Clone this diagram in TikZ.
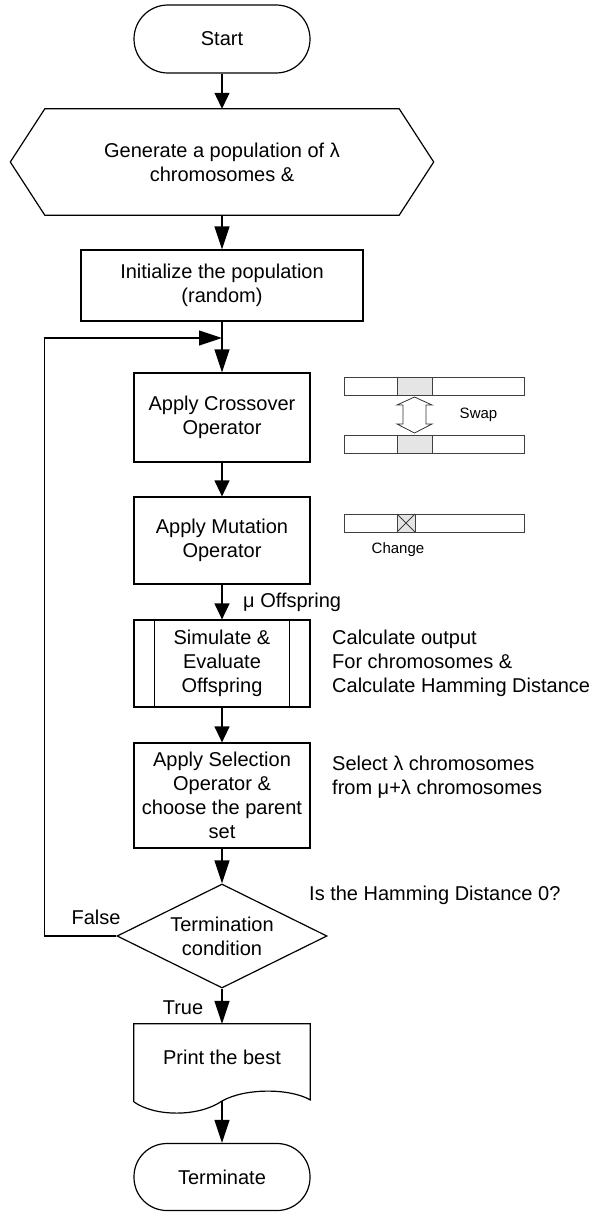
\documentclass[tikz,border=0pt]{standalone}
\usepackage{fontspec}
\setmainfont{Liberation Sans}
\usetikzlibrary{arrows.meta,shapes.geometric,calc}
\begin{document}
\begin{tikzpicture}[x=1pt,y=-1pt,
  every node/.style={font=\fontsize{20}{24}\selectfont},
  line/.style={line width=1.2pt},
  term/.style={draw,line width=1.2pt,rounded corners=34pt,minimum width=176pt,minimum height=68pt,inner sep=0pt},
  procbox/.style={draw,line width=1.2pt,minimum width=176pt,inner sep=0pt,align=center},
  ghost/.style={inner sep=0pt,align=center},
  dec/.style={draw,diamond,aspect=2,line width=1.2pt,minimum width=210pt,minimum height=104pt,inner sep=0pt,align=center},
  longarrow/.style={line width=1.2pt,-{Triangle[length=23pt,width=15pt]}},
  shortarrow/.style={line width=1.2pt,-{Triangle[length=16pt,width=15pt]}},
  note/.style={inner sep=0pt,align=left,anchor=west},
  small/.style={inner sep=0pt,font=\fontsize{15}{18}\selectfont},
  bar/.style={draw=black!75,line width=0.9pt,fill=white},
  graycell/.style={draw=black!75,line width=0.9pt,fill=black!10}
]
\useasboundingbox (0,0) rectangle (591,1212);

% main flow
\node[term] (start) at (222,39) {Start};
\node[ghost,minimum width=423pt,minimum height=106pt] (gen) at (222,162) {Generate a population of λ\\chromosomes \&};
\draw[line] (gen.west) -- ($(gen.north west)+(34.5,0)$) -- ($(gen.north east)+(-34.5,0)$) -- (gen.east)
  -- ($(gen.south east)+(-34.5,0)$) -- ($(gen.south west)+(34.5,0)$) -- cycle;
\node[procbox,minimum width=282pt,minimum height=71pt] (init) at (222,285.5) {Initialize the population\\(random)};
\node[procbox,minimum height=89pt] (cross) at (222,417.5) {Apply Crossover\\Operator};
\node[procbox,minimum height=87pt] (mut) at (222,540.5) {Apply Mutation\\Operator};
\node[procbox,minimum height=87pt] (sim) at (222,663.5) {Simulate \&\\Evaluate\\Offspring};
\draw[line] ($(sim.north west)+(21,0)$) -- ($(sim.south west)+(21,0)$);
\draw[line] ($(sim.north east)+(-21,0)$) -- ($(sim.south east)+(-21,0)$);
\node[procbox,minimum height=105pt] (sel) at (222,795.5) {Apply Selection\\Operator \&\\choose the parent\\set};
\node[dec] (cond) at (222,936) {Termination\\condition};
\node[ghost,minimum width=176pt,minimum height=66pt] (pb) at (222,1057) {Print the best};
\draw[line] ($(pb.north west)+(0,78)$) -- (pb.north west) -- (pb.north east) -- ($(pb.north east)+(0,76)$)
  .. controls (289,1088) and (245,1088) .. (222,1101)
  .. controls (199,1117) and (155,1117) .. ($(pb.north west)+(0,78)$);
\coordinate (pbout) at (222,1101);
\node[term,minimum height=67pt,rounded corners=33pt] (termn) at (222,1177) {Terminate};

% connectors
\coordinate (join) at (222,338);
\draw[shortarrow] (start) -- (gen);
\draw[longarrow] (gen) -- (init);
\draw[longarrow] (init) -- (cross);
\draw[longarrow] (cond.west) -- ++(-72,0) |- (join);
\draw[shortarrow] (cross) -- (mut);
\draw[shortarrow] (mut) -- (sim);
\draw[shortarrow] (sim) -- (sel);
\draw[longarrow] (sel) -- (cond);
\draw[longarrow] (cond) -- (pb);
\draw[longarrow] (pbout) -- (termn);

% labels
\node[inner sep=0pt] (lfalse) at (96,917) {False};
\node[inner sep=0pt] (ltrue) at (183,1008) {True};
\node[note] (lmu) at (243,602) {μ Offspring};
\node[note] (ncalc) at (332,663) {Calculate output\\For chromosomes \&\\Calculate Hamming Distance};
\node[note] (nsel) at (332,777.5) {Select λ chromosomes\\from μ+λ chromosomes};
\node[note] (nham) at (309,895) {Is the Hamming Distance 0?};

% crossover illustration
\draw[bar] (344,377) rectangle (524,395);
\draw[graycell] (397,377) rectangle (432,395);
\draw[bar] (344,435) rectangle (524,453);
\draw[graycell] (397,435) rectangle (432,453);
\draw[draw=black!80,line width=0.8pt,fill=white] (414.5,397) -- (432,405) -- (426,405) -- (426,424) -- (432,424)
  -- (414.5,433) -- (397,424) -- (403,424) -- (403,405) -- (397,405) -- cycle;
\node[small] (lswap) at (478.5,415) {Swap};

% mutation illustration
\draw[bar] (344,514) rectangle (524,532);
\draw[graycell] (397,514) rectangle (415,532);
\draw[draw=black!75,line width=0.8pt] (397,514) -- (415,532) (415,514) -- (397,532);
\node[small] (lchange) at (398,550) {Change};
\end{tikzpicture}
\end{document}
